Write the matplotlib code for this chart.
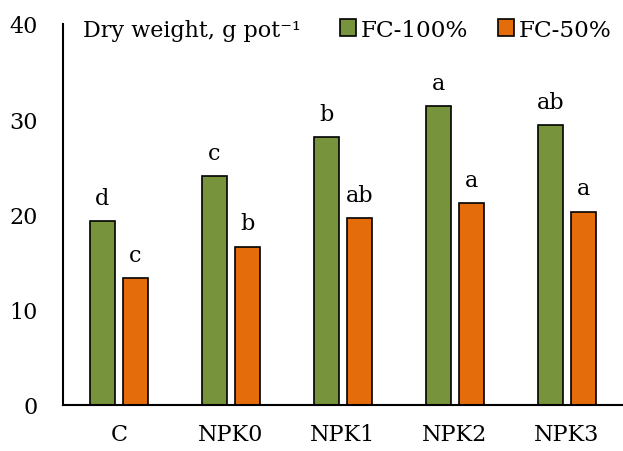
import matplotlib
matplotlib.use("Agg")
import matplotlib.pyplot as plt
import numpy as np

categories = ["C", "NPK0", "NPK1", "NPK2", "NPK3"]
fc100 = [19.3, 24.0, 28.1, 31.4, 29.4]
fc50 = [13.3, 16.6, 19.6, 21.2, 20.3]
letters100 = ["d", "c", "b", "a", "ab"]
letters50 = ["c", "b", "ab", "a", "a"]
series_names = ["FC-100%", "FC-50%"]
y_ticks = [0, 10, 20, 30, 40]

green = "#77933C"
orange = "#E46C0A"

plt.rcParams["font.family"] = ["DejaVu Serif"]
plt.rcParams["font.size"] = 16

fig = plt.figure(figsize=(6.23, 4.52), dpi=100)
ax = fig.add_axes([0.1011, 0.1018, 0.8989, 0.8429])

x = np.arange(len(categories))
w = 0.23
off = 0.147
ax.bar(x - off, fc100, w, color=green, edgecolor="black", linewidth=1.2, label=series_names[0])
ax.bar(x + off, fc50, w, color=orange, edgecolor="black", linewidth=1.2, label=series_names[1])

# significance letters above each bar
for xi, v, t in zip(x - off, fc100, letters100):
    ax.text(xi, v + 1.3, t, ha="center", va="bottom", fontsize=16)
for xi, v, t in zip(x + off, fc50, letters50):
    ax.text(xi, v + 1.3, t, ha="center", va="bottom", fontsize=16)

ax.set_xlim(-0.5, 4.5)
ax.set_ylim(0, 40)
ax.set_yticks(y_ticks)
ax.set_xticks(x)
ax.set_xticklabels(categories)
ax.tick_params(axis="y", length=0, pad=18, labelsize=16)
ax.tick_params(axis="x", length=0, pad=13, labelsize=16)
for s in ["top", "right"]:
    ax.spines[s].set_visible(False)
for s in ["left", "bottom"]:
    ax.spines[s].set_linewidth(1.5)

ax.text(0.035, 0.985, "Dry weight, g pot\u207b\u00b9", transform=ax.transAxes,
        ha="left", va="center", fontsize=16)

ax.legend(loc="center right", bbox_to_anchor=(0.98, 0.985), ncol=2, frameon=False,
          handlelength=0.7, handleheight=0.7, handletextpad=0.2, columnspacing=1.3,
          borderaxespad=0, borderpad=0, fontsize=16.7)

fig.savefig("out.png", dpi=100)
